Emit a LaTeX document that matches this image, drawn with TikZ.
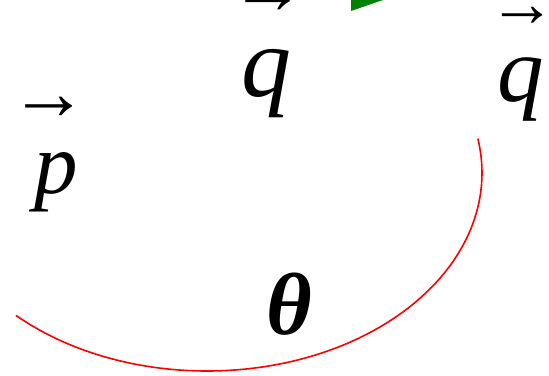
\documentclass[tikz,border=0pt]{standalone}
\usepackage{fontspec}
\setmainfont{Liberation Serif}
\newfontfamily\itfont{LiberationSerif-Italic.ttf}
\newfontfamily\bifont{LiberationSerif-BoldItalic.ttf}
\begin{document}
\begin{tikzpicture}[x=1pt,y=1pt]
\tikzset{
  letter/.style={inner sep=0pt, anchor=base west},
  vecarrow/.style={inner sep=0pt, anchor=center},
  arcline/.style={draw=red, line width=1.6pt},
  tip/.style={fill=green!50!black, draw=none}
}
\useasboundingbox (0,0) rectangle (549,375);
% letters
\node[letter, font=\fontsize{87}{87}\selectfont\itfont] (p) at (34,181) {p};
\node[letter, font=\fontsize{100}{100}\selectfont\itfont] (q1) at (241,278) {q};
\node[letter, font=\fontsize{93}{93}\selectfont\itfont] (q2) at (497,273) {q};
% vector arrows
\node[vecarrow, font=\fontsize{79}{79}\selectfont] (pa) at (49,266.5) {→};
\node[vecarrow, font=\fontsize{75}{75}\selectfont] (q1a) at (268.3,372) {→};
\node[vecarrow, font=\fontsize{68}{68}\selectfont] (q2a) at (522,358.5) {→};
% angle
\node[letter, font=\fontsize{88}{88}\selectfont\bifont] (th) at (266,40) {θ};
% arc
\coordinate (c) at (207,202);
\draw[arcline] ([shift={(226:275 and 198)}]c) arc[start angle=226, end angle=370, x radius=275, y radius=198];
% green tip
\fill[tip] (351,364) -- (383,375) -- (351,375) -- cycle;
\end{tikzpicture}
\end{document}
